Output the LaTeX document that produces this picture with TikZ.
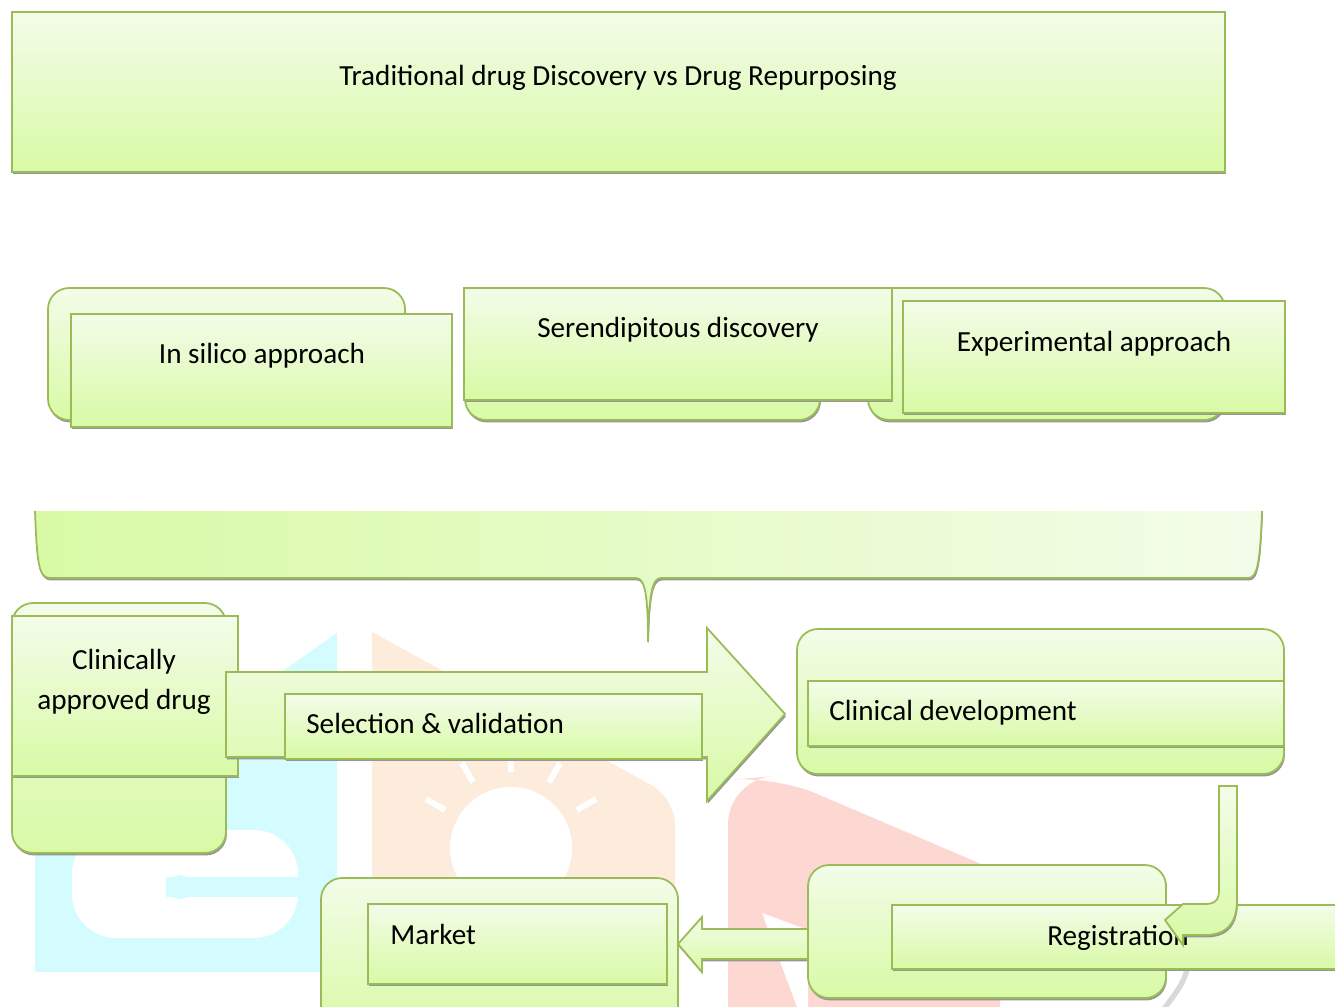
\documentclass[tikz,border=0pt]{standalone}
\usepackage{fontspec}
\setmainfont{Carlito}
\usetikzlibrary{shadows}

\begin{document}
\begin{tikzpicture}[x=0.02cm, y=-0.02cm, font=\fontsize{16.6}{22.8}\selectfont,
  panel/.style={draw=boxline, line width=1pt, top color=boxtop, bottom color=boxbot,
    drop shadow={shadow xshift=0.5pt, shadow yshift=-1.4pt, fill=shadowgray, opacity=1}},
  roundpanel/.style={panel, rounded corners=12pt},
  lbl/.style={anchor=base, inner sep=0pt},
  lbleft/.style={anchor=base west, inner sep=0pt}]

% Define colors
\definecolor{boxline}{RGB}{155,187,89}
\definecolor{boxtop}{RGB}{243,252,233}
\definecolor{boxbot}{RGB}{216,250,165}
\definecolor{shadowgray}{RGB}{150,150,150}
\definecolor{markcyan}{RGB}{212,251,254}
\definecolor{markpeach}{RGB}{253,236,219}
\definecolor{markred}{RGB}{253,216,210}

\useasboundingbox (0,0) rectangle (1335,1007);

% Faint watermark behind the chart
\fill[markcyan] (35,845) -- (337,633) -- (337,972) -- (35,972) -- cycle;
\fill[white, rounded corners=25pt] (72,830) rectangle (298,938);
\fill[markcyan] (166,877) rectangle (298,897);
\fill[markcyan] (180,887) circle (12);
\fill[markpeach] (372,632) [rounded corners=15pt] -- (675,798) [sharp corners] -- (675,1007) -- (372,1007) -- cycle;
\fill[white] (511,848) circle (61);
\foreach \ang in {-150,-120,-90,-60,-30} {
    \draw[white, line width=3.4pt] (511,848) ++(\ang:76) -- ++(\ang:22);
}
\fill[markred] (728,1007) [rounded corners=25pt] -- (728,780) -- (775,776) [sharp corners] -- (1000,872) -- (1000,1007) -- cycle;
\fill[white] (762,913) -- (808,930) -- (808,1007) -- (797,1007) -- cycle;
\draw[black!15, line width=3pt] (1190,962) .. controls (1182,985) .. (1163,1010);

% Title
\path[panel] (12,12) rectangle (1225,172);
\node[lbl] (title) at (618,86) {Traditional drug Discovery vs Drug Repurposing};

% Three approaches
\path[roundpanel] (48,288) rectangle (405,420);
\path[panel] (71,314) rectangle (452,427);
\node[lbl] (silico) at (262,363) {In silico approach};

\path[roundpanel] (465,300) rectangle (820,420);
\path[roundpanel] (868,288) rectangle (1225,420);
\path[panel] (464,288) rectangle (892,400);
\node[lbl] (seren) at (678,337) {Serendipitous discovery};

\path[panel] (903,301) rectangle (1285,413);
\node[lbl] (exper) at (1094,351) {Experimental approach};

% Brace gathering the approaches
\shade[left color=boxbot, right color=boxtop,
  drop shadow={shadow xshift=0.5pt, shadow yshift=-1.4pt, fill=shadowgray, opacity=1}]
  (35,511) .. controls (37,565) and (39,578) .. (50,578) -- (636,578)
  .. controls (645,578) and (648,595) .. (648,642)
  .. controls (649,595) and (652,578) .. (661,578) -- (1248,578)
  .. controls (1257,578) and (1260,565) .. (1262,511) -- cycle;
\draw[boxline, line width=1pt]
  (35,511) .. controls (37,565) and (39,578) .. (50,578) -- (636,578)
  .. controls (645,578) and (648,595) .. (648,642)
  .. controls (649,595) and (652,578) .. (661,578) -- (1248,578)
  .. controls (1257,578) and (1260,565) .. (1262,511);

% Clinically approved drug
\path[roundpanel] (12,603) rectangle (226,853);
\path[panel] (12,616) rectangle (238,776);
\node[lbl] (clin1) at (124,669) {Clinically};
\node[lbl] (clin2) at (124,709) {approved drug};

% Selection arrow
\path[panel] (226,672) -- (707,672) -- (707,628) -- (785,714) -- (707,801) -- (707,757) -- (226,757) -- cycle;
\path[panel] (285,694) rectangle (702,759);
\node[lbleft] (select) at (306,733) {Selection \& validation};

% Clinical development
\path[roundpanel] (797,629) rectangle (1284,774);
\path[panel] (808,681) rectangle (1284,746);
\node[lbleft] (clindev) at (829,720) {Clinical development};

% Arrow to market
\path[panel] (820,929) -- (702,929) -- (702,917) -- (678,944) -- (702,972) -- (702,959) -- (820,959) -- cycle;

% Market
\path[roundpanel] (321,878) rectangle (678,1030);
\path[panel] (368,904) rectangle (667,984);
\node[lbleft] (market) at (390,944) {Market};

% Registration
\path[roundpanel] (808,865) rectangle (1166,998);
\path[panel] (892,905) rectangle (1345,969);
\node[lbleft] (regis) at (1047,945) {Registration};

% Bent arrow down to registration
\path[panel] (1219,786) -- (1237,786) -- (1237,900) .. controls (1237,925) and (1225,935) .. (1205,935)
  -- (1183,935) -- (1183,945) -- (1165,920) -- (1183,904) -- (1205,904)
  .. controls (1215,904) and (1219,900) .. (1219,890) -- cycle;

\end{tikzpicture}
\end{document}
